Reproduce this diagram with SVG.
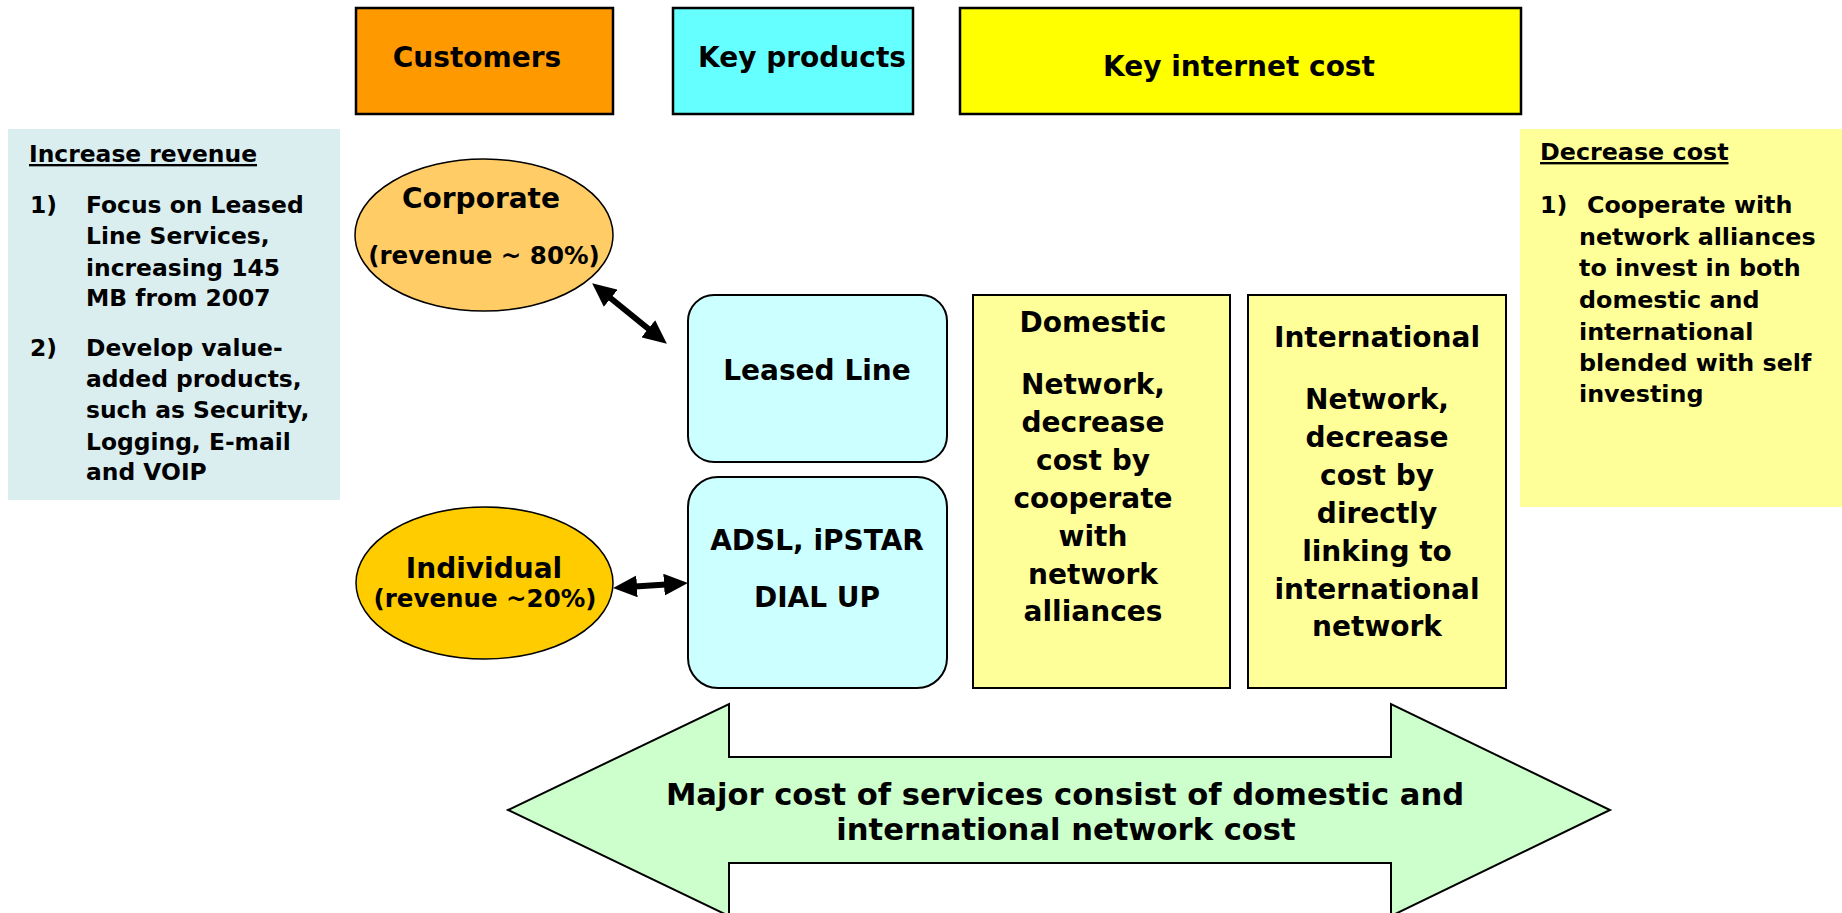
<svg xmlns="http://www.w3.org/2000/svg" width="1842" height="913" viewBox="0 0 1842 913">
<style>
text{font-family:"DejaVu Sans",Verdana,"Liberation Sans",sans-serif;font-weight:bold;fill:#000}
.t28{font-size:28px}
.t24{font-size:24.5px}
.tl{font-size:23.4px}
.tr{font-size:23.8px}
.t30{font-size:30.6px}
.mid{text-anchor:middle}
.ul{text-decoration:underline}
.hdr{stroke:#000;stroke-width:2.5}
.node{stroke:#000;stroke-width:2}
.ell{stroke:#000;stroke-width:1.5}
.conn{stroke:#000;stroke-width:6;fill:none;marker-start:url(#head);marker-end:url(#head)}
</style>
<defs>
<marker id="head" viewBox="0 0 24 22" refX="10" refY="11" markerWidth="24" markerHeight="22" markerUnits="userSpaceOnUse" orient="auto-start-reverse">
<path d="M0,0 L24,11 L0,22 z" fill="#000"/>
</marker>
</defs>

<g id="customers-header">
<rect class="hdr" x="356" y="8" width="257" height="106" fill="#FF9900"/>
<text class="t28 mid" x="477" y="67">Customers</text>
</g>
<g id="products-header">
<rect class="hdr" x="673" y="8" width="240" height="106" fill="#66FFFF"/>
<text class="t28 mid" x="802" y="67">Key products</text>
</g>
<g id="cost-header">
<rect class="hdr" x="960" y="8" width="561" height="106" fill="#FFFF00"/>
<text class="t28 mid" x="1239" y="76">Key internet cost</text>
</g>

<g id="increase-revenue">
<rect x="8" y="129" width="332" height="371" fill="#DAEEF0"/>
<text class="tl ul" x="29" y="162">Increase revenue</text>
<text class="tl" x="30" y="213">1)</text>
<text class="tl" x="86" y="213">Focus on Leased</text>
<text class="tl" x="86" y="244">Line Services,</text>
<text class="tl" x="86" y="276">increasing 145</text>
<text class="tl" x="86" y="306">MB from 2007</text>
<text class="tl" x="30" y="356">2)</text>
<text class="tl" x="86" y="356">Develop value-</text>
<text class="tl" x="86" y="387">added products,</text>
<text class="tl" x="86" y="418">such as Security,</text>
<text class="tl" x="86" y="450">Logging, E-mail</text>
<text class="tl" x="86" y="480">and VOIP</text>
</g>

<g id="decrease-cost">
<rect x="1520" y="129" width="322" height="378" fill="#FFFF99"/>
<text class="tr ul" x="1540" y="160">Decrease cost</text>
<text class="tr" x="1540" y="213">1)</text>
<text class="tr" x="1587" y="213">Cooperate with</text>
<text class="tr" x="1579" y="245">network alliances</text>
<text class="tr" x="1579" y="276">to invest in both</text>
<text class="tr" x="1579" y="308">domestic and</text>
<text class="tr" x="1579" y="340">international</text>
<text class="tr" x="1579" y="371">blended with self</text>
<text class="tr" x="1579" y="402">investing</text>
</g>

<g id="corporate">
<ellipse class="ell" cx="484" cy="235" rx="129" ry="76" fill="#FFCC66"/>
<text class="t28 mid" x="481" y="208">Corporate</text>
<text class="t24 mid" x="484" y="264">(revenue ~ 80%)</text>
</g>
<g id="individual">
<ellipse class="ell" cx="484.5" cy="583" rx="128.5" ry="76" fill="#FFCC00"/>
<text class="t28 mid" x="484" y="578">Individual</text>
<text class="t24 mid" x="485" y="607">(revenue ~20%)</text>
</g>

<g id="leased-line">
<rect class="node" x="688" y="295" width="259" height="167" rx="26" fill="#CCFFFF"/>
<text class="t28 mid" x="817" y="380">Leased Line</text>
</g>
<g id="adsl">
<rect class="node" x="688" y="477" width="259" height="211" rx="30" fill="#CCFFFF"/>
<text class="t28 mid" x="817" y="550">ADSL, iPSTAR</text>
<text class="t28 mid" x="817" y="607">DIAL UP</text>
</g>

<g id="domestic">
<rect class="node" x="973" y="295" width="257" height="393" fill="#FFFF99"/>
<text class="t28 mid" x="1093" y="332">Domestic</text>
<text class="t28 mid" x="1093" y="394">Network,</text>
<text class="t28 mid" x="1093" y="432">decrease</text>
<text class="t28 mid" x="1093" y="470">cost by</text>
<text class="t28 mid" x="1093" y="508">cooperate</text>
<text class="t28 mid" x="1093" y="546">with</text>
<text class="t28 mid" x="1093" y="584">network</text>
<text class="t28 mid" x="1093" y="621">alliances</text>
</g>
<g id="international">
<rect class="node" x="1248" y="295" width="258" height="393" fill="#FFFF99"/>
<text class="t28 mid" x="1377" y="347">International</text>
<text class="t28 mid" x="1377" y="409">Network,</text>
<text class="t28 mid" x="1377" y="447">decrease</text>
<text class="t28 mid" x="1377" y="485">cost by</text>
<text class="t28 mid" x="1377" y="523">directly</text>
<text class="t28 mid" x="1377" y="561">linking to</text>
<text class="t28 mid" x="1377" y="599">international</text>
<text class="t28 mid" x="1377" y="636">network</text>
</g>

<g id="major-cost">
<polygon class="node" points="508,810 729,704 729,757 1391,757 1391,704 1610,810 1391,916 1391,863 729,863 729,916" fill="#CCFFCC"/>
<text class="t30 mid" x="1065" y="805">Major cost of services consist of domestic and</text>
<text class="t30 mid" x="1066" y="840">international network cost</text>
</g>

<g id="connectors">
<line class="conn" x1="603" y1="292" x2="656" y2="335"/>
<line class="conn" x1="627" y1="587" x2="674" y2="584"/>
</g>
</svg>
